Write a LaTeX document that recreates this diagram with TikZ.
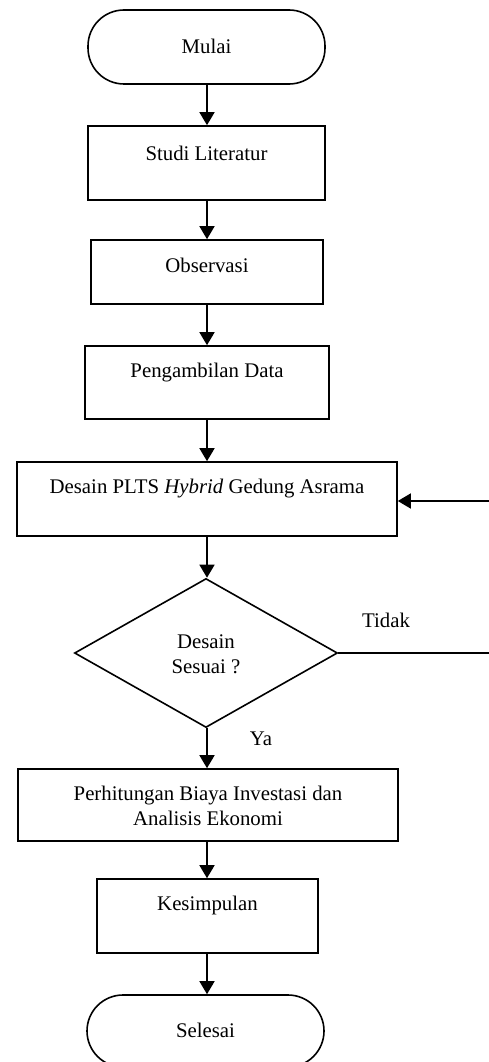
\documentclass[tikz,border=0pt]{standalone}
\usepackage{fontspec}
\setmainfont{Liberation Serif}
\usetikzlibrary{shapes.geometric,arrows.meta}
\tikzset{
  ln/.style={line width=1.6pt},
  boxnode/.style={draw,ln,rectangle,inner sep=0pt},
  term/.style={draw,ln,rectangle,rounded corners=36pt,inner sep=0pt},
  dec/.style={draw,ln,diamond,inner sep=0pt},
  txt/.style={inner sep=0pt,font=\fontsize{20.8}{25}\selectfont,align=center},
  arr/.style={ln,-{Triangle[width=15pt,length=13pt]}},
}
\begin{document}
\begin{tikzpicture}[x=1pt,y=-1pt]
\useasboundingbox (0,0) rectangle (489,1062);
% nodes
\node[term,minimum width=237pt,minimum height=74pt] (n1) at (206.5,47) {};
\node[txt] (t1) at (206.5,46) {Mulai};
\node[boxnode,minimum width=237pt,minimum height=74pt] (n2) at (206.5,163) {};
\node[txt] (t2) at (206.5,153) {Studi Literatur};
\node[boxnode,minimum width=232pt,minimum height=64pt] (n3) at (207,272) {};
\node[txt] (t3) at (207,265) {Observasi};
\node[boxnode,minimum width=244pt,minimum height=73pt] (n4) at (207,382.5) {};
\node[txt] (t4) at (207,373) {Pengambilan Data};
\node[boxnode,minimum width=380pt,minimum height=74pt] (n5) at (207,499) {};
\node[txt] (t5) at (207,489) {Desain PLTS \textit{Hybrid} Gedung Asrama};
\node[dec,minimum width=263pt,minimum height=149pt] (n6) at (206,653) {};
\node[txt] (t6) at (206,654) {Desain\\Sesuai ?};
\node[boxnode,minimum width=380pt,minimum height=72pt] (n7) at (208,805) {};
\node[txt] (t7) at (208,806) {Perhitungan Biaya Investasi dan\\Analisis Ekonomi};
\node[boxnode,minimum width=221pt,minimum height=74pt] (n8) at (207.5,916) {};
\node[txt] (t8) at (207.5,905) {Kesimpulan};
\node[term,minimum width=237pt,minimum height=72pt] (n9) at (205.5,1031) {};
\node[txt] (t9) at (205.5,1030) {Selesai};
\node[txt] (lt) at (386,620) {Tidak};
\node[txt] (ly) at (261,739) {Ya};
\coordinate (ax) at (207,0);
\coordinate (r1) at (489,653);
\coordinate (r2) at (489,501);
% connectors
\draw[arr] (n1.south -| ax) -- (n2.north -| ax);
\draw[arr] (n2.south -| ax) -- (n3.north -| ax);
\draw[arr] (n3.south -| ax) -- (n4.north -| ax);
\draw[arr] (n4.south -| ax) -- (n5.north -| ax);
\draw[arr] (n5.south -| ax) -- (n6.north -| ax);
\draw[arr] (n6.south -| ax) -- (n7.north -| ax);
\draw[arr] (n7.south -| ax) -- (n8.north -| ax);
\draw[arr] (n8.south -| ax) -- (n9.north -| ax);
\draw[ln] (n6.east) -- (r1);
\draw[arr] (r2) -- (r2 -| n5.east);
\end{tikzpicture}
\end{document}
